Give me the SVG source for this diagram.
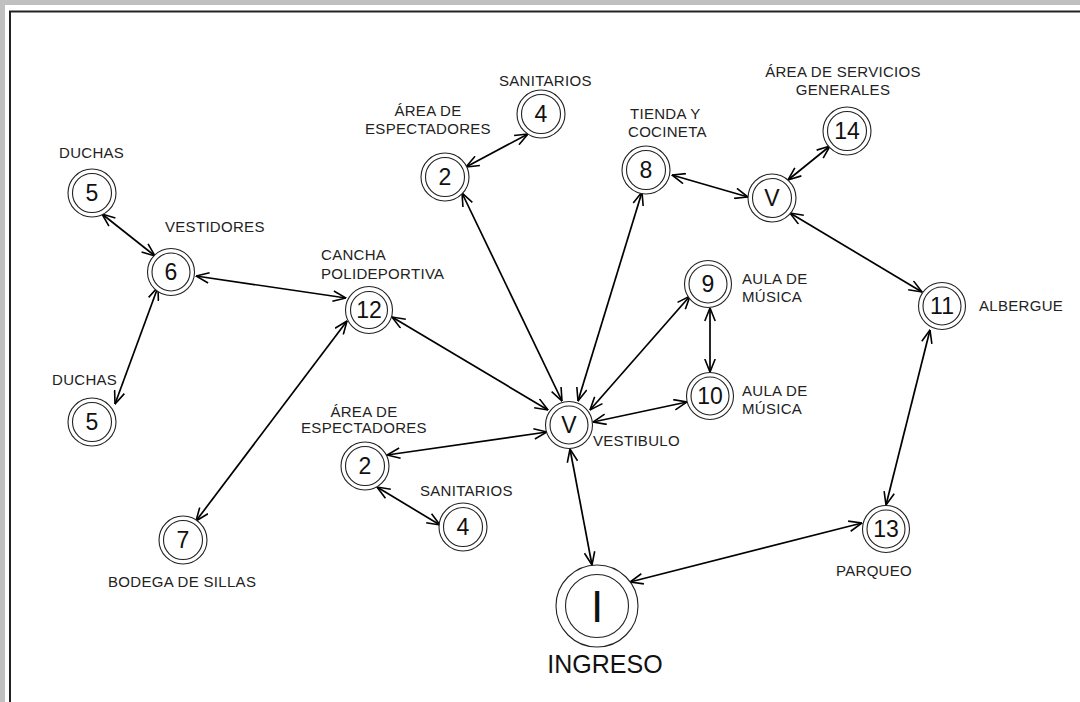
<svg xmlns="http://www.w3.org/2000/svg" width="1080" height="702" viewBox="0 0 1080 702">
<defs>
<marker id="ah" viewBox="0 0 14 12" refX="13.5" refY="6" markerWidth="14" markerHeight="12" markerUnits="userSpaceOnUse" orient="auto-start-reverse">
<path d="M0.5,0.8 L13.5,6 L0.5,11.2" fill="none" stroke="#000" stroke-width="1.6"/>
</marker>
</defs>
<style>
.c{fill:#fff;stroke:#222;stroke-width:1.1}
.n{font-family:"Liberation Sans",Arial,sans-serif;font-size:23px;fill:#111;text-anchor:middle}
.l{font-family:"Liberation Sans",Arial,sans-serif;font-size:15px;fill:#222;letter-spacing:0.3px}
.m{text-anchor:middle}
.e{fill:none;stroke:#000;stroke-width:1.7;marker-start:url(#ah);marker-end:url(#ah)}
</style>
<rect width="1080" height="702" fill="#c0c0c0"/>
<rect x="5" y="5" width="1075" height="697" fill="#fff"/>
<path d="M10,702 V11.5 H1080" fill="none" stroke="#222" stroke-width="2"/>
<g id="connectors">
<line class="e" x1="102" y1="214" x2="155" y2="256"/>
<line class="e" x1="158" y1="287" x2="115" y2="404"/>
<line class="e" x1="196" y1="276" x2="346" y2="298"/>
<line class="e" x1="347" y1="321" x2="196" y2="521"/>
<line class="e" x1="392" y1="317" x2="548" y2="410"/>
<line class="e" x1="466" y1="167" x2="528" y2="134"/>
<line class="e" x1="462" y1="193" x2="562" y2="401"/>
<line class="e" x1="642" y1="192" x2="578" y2="401"/>
<line class="e" x1="672" y1="175" x2="748" y2="197"/>
<line class="e" x1="788" y1="180" x2="830" y2="146"/>
<line class="e" x1="790" y1="213" x2="922" y2="292"/>
<line class="e" x1="590" y1="410" x2="690" y2="296"/>
<line class="e" x1="710" y1="308" x2="710" y2="372"/>
<line class="e" x1="593" y1="422" x2="687" y2="402"/>
<line class="e" x1="547" y1="432" x2="387" y2="455"/>
<line class="e" x1="377" y1="487" x2="440" y2="525"/>
<line class="e" x1="570" y1="449" x2="592" y2="565"/>
<line class="e" x1="630" y1="582" x2="862" y2="523"/>
<line class="e" x1="930" y1="330" x2="886" y2="505"/>
</g>
<g id="n5a"><circle class="c" cx="92" cy="193" r="24"/><circle class="c" cx="92" cy="193" r="19.5"/><text class="n" x="92" y="201">5</text><text class="l" x="59" y="158">DUCHAS</text></g>
<g id="n6"><circle class="c" cx="171" cy="272" r="23.5"/><circle class="c" cx="171" cy="272" r="19"/><text class="n" x="171" y="280">6</text><text class="l" x="165" y="232">VESTIDORES</text></g>
<g id="n5b"><circle class="c" cx="92" cy="422" r="24"/><circle class="c" cx="92" cy="422" r="19.5"/><text class="n" x="92" y="430">5</text><text class="l" x="52" y="385">DUCHAS</text></g>
<g id="n12"><circle class="c" cx="369" cy="310" r="23.5"/><circle class="c" cx="369" cy="310" r="18.5"/><text class="n" x="369" y="318">12</text><text class="l" x="321" y="260">CANCHA</text><text class="l" x="321" y="279">POLIDEPORTIVA</text></g>
<g id="n7"><circle class="c" cx="183" cy="540" r="24"/><circle class="c" cx="183" cy="540" r="19.5"/><text class="n" x="183" y="548">7</text><text class="l" x="108" y="587">BODEGA DE SILLAS</text></g>
<g id="n2a"><circle class="c" cx="445" cy="177" r="24"/><circle class="c" cx="445" cy="177" r="19.5"/><text class="n" x="445" y="185">2</text><text class="l m" x="428" y="116">ÁREA DE</text><text class="l m" x="428" y="134">ESPECTADORES</text></g>
<g id="n4a"><circle class="c" cx="541" cy="114" r="24"/><circle class="c" cx="541" cy="114" r="19.5"/><text class="n" x="541" y="122">4</text><text class="l" x="499" y="86">SANITARIOS</text></g>
<g id="n8"><circle class="c" cx="646" cy="170" r="24"/><circle class="c" cx="646" cy="170" r="19.5"/><text class="n" x="646" y="178">8</text><text class="l" x="630" y="119">TIENDA Y</text><text class="l" x="628" y="137">COCINETA</text></g>
<g id="nVt"><circle class="c" cx="772" cy="198" r="24"/><circle class="c" cx="772" cy="198" r="19.5"/><text class="n" x="772" y="206">V</text></g>
<g id="n14"><circle class="c" cx="847" cy="131" r="24"/><circle class="c" cx="847" cy="131" r="19.5"/><text class="n" x="847" y="139">14</text><text class="l m" x="843" y="77">ÁREA DE SERVICIOS</text><text class="l m" x="843" y="95">GENERALES</text></g>
<g id="n9"><circle class="c" cx="708" cy="284" r="23.5"/><circle class="c" cx="708" cy="284" r="19"/><text class="n" x="708" y="292">9</text><text class="l" x="742" y="284">AULA DE</text><text class="l" x="742" y="302">MÚSICA</text></g>
<g id="n10"><circle class="c" cx="710" cy="396" r="23.5"/><circle class="c" cx="710" cy="396" r="19"/><text class="n" x="710" y="404">10</text><text class="l" x="742" y="396">AULA DE</text><text class="l" x="742" y="414">MÚSICA</text></g>
<g id="n11"><circle class="c" cx="942" cy="306" r="23.5"/><circle class="c" cx="942" cy="306" r="19"/><text class="n" x="942" y="314">11</text><text class="l" x="979" y="311">ALBERGUE</text></g>
<g id="nV"><circle class="c" cx="569" cy="425" r="23.5"/><circle class="c" cx="569" cy="425" r="19"/><text class="n" x="569" y="433">V</text><text class="l" x="593" y="446">VESTIBULO</text></g>
<g id="n2b"><circle class="c" cx="365" cy="466" r="24"/><circle class="c" cx="365" cy="466" r="19.5"/><text class="n" x="365" y="474">2</text><text class="l m" x="364" y="417">ÁREA DE</text><text class="l m" x="364" y="433">ESPECTADORES</text></g>
<g id="n4b"><circle class="c" cx="463" cy="527" r="24"/><circle class="c" cx="463" cy="527" r="19.5"/><text class="n" x="463" y="535">4</text><text class="l" x="420" y="496">SANITARIOS</text></g>
<g id="n13"><circle class="c" cx="886" cy="529" r="23.5"/><circle class="c" cx="886" cy="529" r="19"/><text class="n" x="886" y="537">13</text><text class="l" x="836" y="576">PARQUEO</text></g>
<g id="nI"><circle class="c" cx="597" cy="606" r="41"/><circle class="c" cx="597" cy="606" r="31.5"/><text class="n" x="597" y="622" style="font-size:44px">I</text><text class="n" x="605" y="673" style="font-size:25px">INGRESO</text></g>
</svg>
